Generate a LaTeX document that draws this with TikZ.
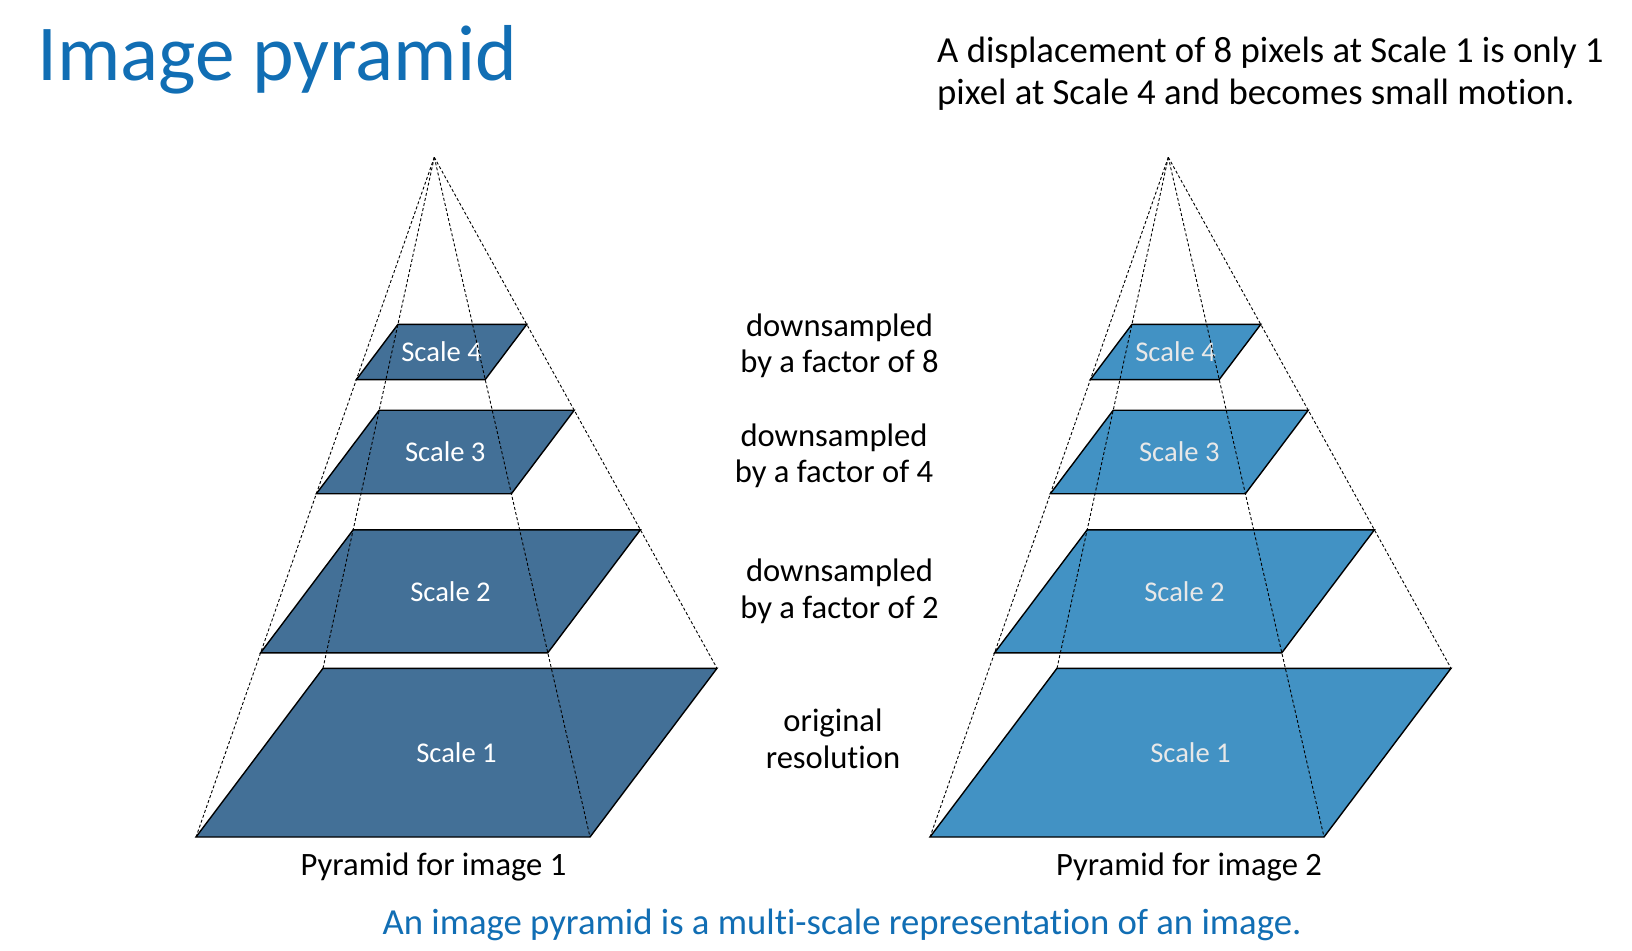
\documentclass[tikz,border=0pt]{standalone}
\usepackage{fontspec}
\setmainfont{Carlito}[Ligatures={NoCommon}]
\usetikzlibrary{calc}
\definecolor{titleblue}{RGB}{17,110,180}
\definecolor{darkplane}{RGB}{67,112,151}
\definecolor{lightplane}{RGB}{66,146,196}
\definecolor{lightlabel}{RGB}{232,232,232}
\tikzset{
  plane/.style={draw=black, line width=1.4pt, line join=miter},
  guide/.style={draw=black, line width=0.9pt, dash pattern=on 3pt off 2.2pt},
  scalelabel/.style={inner sep=0pt, font=\fontsize{28.6}{34}\selectfont},
  note/.style={inner sep=0pt, align=center, font=\fontsize{32.6}{36.7}\selectfont},
  bignote/.style={inner sep=0pt, font=\fontsize{36.7}{41.5}\selectfont},
}
\newcommand\pyr[4]{%
  \coordinate (#1apex) at ({434.3+#2},157.3);
  \coordinate (#1bl) at ({196+#2},837);
  \coordinate (#1br) at ({590+#2},837);
  \coordinate (#1tr) at ({717+#2},668.3);
  \coordinate (#1tl) at ({323+#2},668.3);
  \coordinate (#1mid) at ({456.5+#2},752.65);
  \foreach \fr/\lvl in {1/1,0.729/2,0.495/3,0.327/4}{
    \draw[plane, fill=#3] ($(#1apex)!\fr!(#1bl)$) -- ($(#1apex)!\fr!(#1br)$)
      -- ($(#1apex)!\fr!(#1tr)$) -- ($(#1apex)!\fr!(#1tl)$) -- cycle;
    \node[scalelabel, text=#4] (#1scale\lvl) at ($(#1apex)!\fr!(#1mid)$) {Scale \lvl};
  }
  \foreach \c in {bl,br,tr,tl} \draw[guide] (#1apex) -- (#1\c);
}
\begin{document}
\begin{tikzpicture}[x=1pt, y=-1pt]
  \useasboundingbox (0,0) rectangle (1632,950);
  \fill[white] (0,0) rectangle (1632,950);

  \node[inner sep=0pt, anchor=base west, text=titleblue,
        font=\fontsize{79.3}{95}\selectfont] (title) at (37,81) {Image pyramid};
  \node[bignote, align=left, anchor=base west] (disp) at (937,104)
        {A displacement of 8 pixels at Scale 1 is only 1\\pixel at Scale 4 and becomes small motion.};

  \pyr{L}{0}{darkplane}{white}
  \pyr{R}{734}{lightplane}{lightlabel}

  % anchor=base is the baseline of the last line
  \node[note, anchor=base] (d8) at (839.5,372.7) {downsampled\\by a factor of 8};
  \node[note, anchor=base] (d4) at (834,482.7) {downsampled\\by a factor of 4};
  \node[note, anchor=base] (d2) at (839.5,618.5) {downsampled\\by a factor of 2};
  \node[note, anchor=base] (orig) at (833,768) {original\\resolution};

  \node[note, anchor=base] (lab1) at (433.5,875) {Pyramid for image 1};
  \node[note, anchor=base] (lab2) at (1189,875) {Pyramid for image 2};
  \node[bignote, anchor=base, text=titleblue] (caption) at (842,934)
        {An image pyramid is a multi-scale representation of an image.};
\end{tikzpicture}
\end{document}
